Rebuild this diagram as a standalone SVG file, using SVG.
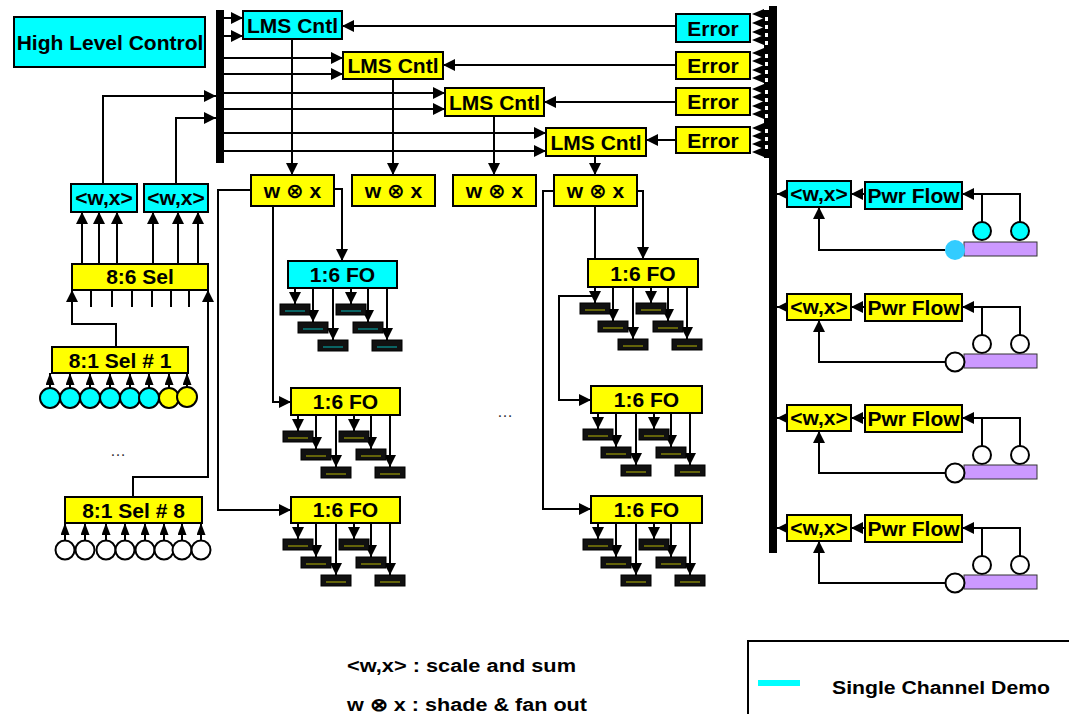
<svg xmlns="http://www.w3.org/2000/svg" width="1069" height="714" viewBox="0 0 1069 714">
<style>
.cy{fill:#00ffff;stroke:#000;stroke-width:2}
.ye{fill:#ffff00;stroke:#000;stroke-width:2}
.t{font-family:"Liberation Sans","DejaVu Sans",Arial,sans-serif;font-weight:bold;font-size:21px;text-anchor:middle;fill:#000}
.ln{fill:none;stroke:#000;stroke-width:2}
.a{marker-end:url(#ah)}
.s{marker-end:url(#as)}
.blk{fill:#111;stroke:#000;stroke-width:1}
.bc{stroke:#00e0e0;stroke-width:0.8}
.by{stroke:#e0e000;stroke-width:0.8}
.leg{font-family:"Liberation Sans",Arial,sans-serif;font-weight:bold;font-size:18px;fill:#000}
</style>
<defs>
<marker id="ah" viewBox="0 0 12 12" refX="12" refY="6" markerWidth="12" markerHeight="12" markerUnits="userSpaceOnUse" orient="auto"><path d="M0,0L12,6L0,12z" fill="#000"/></marker>
<marker id="as" viewBox="0 0 12 9" refX="12" refY="4.5" markerWidth="12" markerHeight="9" markerUnits="userSpaceOnUse" orient="auto"><path d="M0,0L12,4.5L0,9z" fill="#000"/></marker>
</defs>

<g id="left-bus"><rect x="216" y="10" width="8" height="153" fill="#000"/></g>
<g id="right-bus">
<rect x="769" y="6" width="8" height="547" fill="#000"/>
<rect x="764" y="10" width="5" height="148" fill="#000"/>
<g fill="#fff">
<rect x="765" y="17" width="3" height="4"/><rect x="765" y="25" width="3" height="4"/><rect x="765" y="33" width="3" height="4"/><rect x="765" y="41" width="3" height="4"/>
<rect x="765" y="54" width="3" height="4"/><rect x="765" y="62" width="3" height="4"/><rect x="765" y="70" width="3" height="4"/><rect x="765" y="78" width="3" height="4"/>
<rect x="765" y="90" width="3" height="4"/><rect x="765" y="98" width="3" height="4"/><rect x="765" y="106" width="3" height="4"/><rect x="765" y="114" width="3" height="4"/>
<rect x="765" y="129" width="3" height="4"/><rect x="765" y="137" width="3" height="4"/><rect x="765" y="145" width="3" height="4"/>
</g>
<g fill="#000">
<path d="M752,14L764,9V19z"/><path d="M752,23L764,18V28z"/><path d="M752,32L764,27V37z"/><path d="M752,40L764,35V45z"/>
<path d="M752,53L764,48V58z"/><path d="M752,61L764,56V66z"/><path d="M752,70L764,65V75z"/><path d="M752,78L764,73V83z"/>
<path d="M752,89L764,84V94z"/><path d="M752,97L764,92V102z"/><path d="M752,106L764,101V111z"/><path d="M752,114L764,109V119z"/>
<path d="M752,128L764,123V133z"/><path d="M752,136L764,131V141z"/><path d="M752,144L764,139V149z"/><path d="M752,152L764,147V157z"/>
</g>
</g>

<g id="connectors" class="ln">
<path class="a" d="M224,18H243"/><path class="a" d="M224,36H243"/>
<path class="a" d="M224,58H343"/><path class="a" d="M224,74H343"/>
<path class="a" d="M224,93H445"/><path class="a" d="M224,109H445"/>
<path class="a" d="M224,133H546"/><path class="a" d="M224,151H546"/>
<path class="a" d="M103,184V96H216"/><path class="a" d="M176,184V118H216"/>
<path class="a" d="M676,26H342"/><path class="a" d="M676,65H443"/><path class="a" d="M676,102H544"/><path class="a" d="M676,140H646"/>
<path class="a" d="M292,39V175"/><path class="a" d="M393,79V175"/><path class="a" d="M494,116V175"/><path class="a" d="M595,156V175"/>
<path class="a" d="M251,190H218V510H291"/>
<path class="a" d="M273,206V402H291"/>
<path class="a" d="M334,189H342V261"/>
<path class="a" d="M554,191H543V509H591"/>
<path class="a" d="M595,296H559V400H591"/>
<path class="a" d="M637,191H643V259"/>
<path class="a" d="M595,206V303"/>
<path class="a" d="M82,264V212"/><path class="a" d="M99,264V212"/><path class="a" d="M117,264V212"/>
<path class="a" d="M153,264V212"/><path class="a" d="M178,264V212"/><path class="a" d="M198,264V212"/>
<path d="M91,290V307M112,290V307M132,290V307M152,290V307M171,290V307M189,290V307"/>
<path class="a" d="M116,347V324H72V290"/>
<path class="a" d="M133,497V477H208V290"/>
<path class="s" d="M50,388V373"/><path class="s" d="M70,388V373"/><path class="s" d="M90,388V373"/><path class="s" d="M110,388V373"/>
<path class="s" d="M130,388V373"/><path class="s" d="M149,388V373"/><path class="s" d="M169,388V373"/><path class="s" d="M187,388V373"/>
<path class="s" d="M65,540V523"/><path class="s" d="M85,540V523"/><path class="s" d="M106,540V523"/><path class="s" d="M125,540V523"/>
<path class="s" d="M145,540V523"/><path class="s" d="M164,540V523"/><path class="s" d="M182,540V523"/><path class="s" d="M201,540V523"/>
<path class="a" d="M295,288V304"/><path class="a" d="M313,288V322"/><path class="a" d="M333,288V340"/><path class="a" d="M351,288V304"/><path class="a" d="M368,288V322"/><path class="a" d="M387,288V340"/>
<path class="a" d="M298,415V431"/><path class="a" d="M316,415V449"/><path class="a" d="M336,415V467"/><path class="a" d="M354,415V431"/><path class="a" d="M371,415V449"/><path class="a" d="M390,415V467"/>
<path class="a" d="M298,523V539"/><path class="a" d="M316,523V557"/><path class="a" d="M336,523V575"/><path class="a" d="M354,523V539"/><path class="a" d="M371,523V557"/><path class="a" d="M390,523V575"/>
<path class="a" d="M613,287V321"/><path class="a" d="M633,287V339"/><path class="a" d="M651,287V303"/><path class="a" d="M668,287V321"/><path class="a" d="M687,287V339"/>
<path class="a" d="M598,413V429"/><path class="a" d="M616,413V447"/><path class="a" d="M636,413V465"/><path class="a" d="M654,413V429"/><path class="a" d="M671,413V447"/><path class="a" d="M690,413V465"/>
<path class="a" d="M598,523V539"/><path class="a" d="M616,523V557"/><path class="a" d="M636,523V575"/><path class="a" d="M654,523V539"/><path class="a" d="M671,523V557"/><path class="a" d="M690,523V575"/>
<path class="a" d="M787,194H777"/><path class="a" d="M865,194H851"/><path class="a" d="M1020,222V194H962"/><path d="M982,194V222"/><path class="a" d="M945,250H819V207"/>
<path class="a" d="M787,307H777"/><path class="a" d="M865,307H851"/><path class="a" d="M1020,335V307H962"/><path d="M982,307V335"/><path class="a" d="M945,362H819V320"/>
<path class="a" d="M787,418H777"/><path class="a" d="M865,418H851"/><path class="a" d="M1020,446V418H962"/><path d="M982,418V446"/><path class="a" d="M945,473H819V431"/>
<path class="a" d="M787,528H777"/><path class="a" d="M865,528H851"/><path class="a" d="M1020,556V528H962"/><path d="M982,528V556"/><path class="a" d="M945,583H819V541"/>
</g>

<g id="hlc"><rect class="cy" x="14" y="17" width="191" height="50"/><text class="t" x="110" y="50">High Level Control</text></g>

<g id="lms1"><rect class="cy" x="243" y="11" width="99" height="28"/><text class="t" x="292.5" y="33">LMS Cntl</text></g>
<g id="lms2"><rect class="ye" x="343" y="52" width="100" height="27"/><text class="t" x="393" y="73">LMS Cntl</text></g>
<g id="lms3"><rect class="ye" x="445" y="88" width="99" height="28"/><text class="t" x="494.5" y="110">LMS Cntl</text></g>
<g id="lms4"><rect class="ye" x="546" y="128" width="100" height="28"/><text class="t" x="596" y="150">LMS Cntl</text></g>

<g id="err1"><rect class="cy" x="676" y="14" width="74" height="28"/><text class="t" x="713" y="36">Error</text></g>
<g id="err2"><rect class="ye" x="676" y="52" width="74" height="27"/><text class="t" x="713" y="73">Error</text></g>
<g id="err3"><rect class="ye" x="676" y="88" width="74" height="27"/><text class="t" x="713" y="109">Error</text></g>
<g id="err4"><rect class="ye" x="676" y="127" width="74" height="26"/><text class="t" x="713" y="148">Error</text></g>

<g id="wx1"><rect class="ye" x="251" y="175" width="83" height="31"/><text class="t" x="292.5" y="198">w ⊗ x</text></g>
<g id="wx2"><rect class="ye" x="352" y="175" width="83" height="31"/><text class="t" x="393.5" y="198">w ⊗ x</text></g>
<g id="wx3"><rect class="ye" x="453" y="175" width="83" height="31"/><text class="t" x="494.5" y="198">w ⊗ x</text></g>
<g id="wx4"><rect class="ye" x="554" y="175" width="83" height="31"/><text class="t" x="595.5" y="198">w ⊗ x</text></g>

<g id="fo1"><rect class="cy" x="288" y="261" width="109" height="27"/><text class="t" x="342.5" y="282">1:6 FO</text>
<rect class="blk" x="280" y="304" width="30" height="11"/><rect class="blk" x="298" y="322" width="30" height="11"/><rect class="blk" x="318" y="340" width="30" height="11"/><rect class="blk" x="336" y="304" width="30" height="11"/><rect class="blk" x="353" y="322" width="30" height="11"/><rect class="blk" x="372" y="340" width="30" height="11"/>
<path class="bc" d="M285,311h20M303,329h20M323,347h20M341,311h20M358,329h20M377,347h20"/></g>
<g id="fo2"><rect class="ye" x="291" y="388" width="109" height="27"/><text class="t" x="345.5" y="409">1:6 FO</text>
<rect class="blk" x="283" y="431" width="30" height="11"/><rect class="blk" x="301" y="449" width="30" height="11"/><rect class="blk" x="321" y="467" width="30" height="11"/><rect class="blk" x="339" y="431" width="30" height="11"/><rect class="blk" x="356" y="449" width="30" height="11"/><rect class="blk" x="375" y="467" width="30" height="11"/>
<path class="by" d="M288,438h20M306,456h20M326,474h20M344,438h20M361,456h20M380,474h20"/></g>
<g id="fo3"><rect class="ye" x="291" y="497" width="109" height="26"/><text class="t" x="345.5" y="517">1:6 FO</text>
<rect class="blk" x="283" y="539" width="30" height="11"/><rect class="blk" x="301" y="557" width="30" height="11"/><rect class="blk" x="321" y="575" width="30" height="11"/><rect class="blk" x="339" y="539" width="30" height="11"/><rect class="blk" x="356" y="557" width="30" height="11"/><rect class="blk" x="375" y="575" width="30" height="11"/>
<path class="by" d="M288,546h20M306,564h20M326,582h20M344,546h20M361,564h20M380,582h20"/></g>
<g id="fo4"><rect class="ye" x="588" y="259" width="110" height="28"/><text class="t" x="643" y="281">1:6 FO</text>
<rect class="blk" x="580" y="303" width="30" height="11"/><rect class="blk" x="598" y="321" width="30" height="11"/><rect class="blk" x="618" y="339" width="30" height="11"/><rect class="blk" x="636" y="303" width="30" height="11"/><rect class="blk" x="653" y="321" width="30" height="11"/><rect class="blk" x="672" y="339" width="30" height="11"/>
<path class="by" d="M585,310h20M603,328h20M623,346h20M641,310h20M658,328h20M677,346h20"/></g>
<g id="fo5"><rect class="ye" x="591" y="386" width="111" height="27"/><text class="t" x="646.5" y="407">1:6 FO</text>
<rect class="blk" x="583" y="429" width="30" height="11"/><rect class="blk" x="601" y="447" width="30" height="11"/><rect class="blk" x="621" y="465" width="30" height="11"/><rect class="blk" x="639" y="429" width="30" height="11"/><rect class="blk" x="656" y="447" width="30" height="11"/><rect class="blk" x="675" y="465" width="30" height="11"/>
<path class="by" d="M588,436h20M606,454h20M626,472h20M644,436h20M661,454h20M680,472h20"/></g>
<g id="fo6"><rect class="ye" x="591" y="496" width="111" height="27"/><text class="t" x="646.5" y="517">1:6 FO</text>
<rect class="blk" x="583" y="539" width="30" height="11"/><rect class="blk" x="601" y="557" width="30" height="11"/><rect class="blk" x="621" y="575" width="30" height="11"/><rect class="blk" x="639" y="539" width="30" height="11"/><rect class="blk" x="656" y="557" width="30" height="11"/><rect class="blk" x="675" y="575" width="30" height="11"/>
<path class="by" d="M588,546h20M606,564h20M626,582h20M644,546h20M661,564h20M680,582h20"/></g>

<g id="sum-l1"><rect class="cy" x="71" y="184" width="66" height="28"/><text class="t" x="104" y="205">&lt;w,x&gt;</text></g>
<g id="sum-l2"><rect class="cy" x="144" y="184" width="64" height="28"/><text class="t" x="176" y="205">&lt;w,x&gt;</text></g>
<g id="sel86"><rect class="ye" x="72" y="264" width="136" height="26"/><text class="t" x="140" y="284">8:6 Sel</text></g>
<g id="sel1"><rect class="ye" x="52" y="347" width="136" height="26"/><text class="t" x="120" y="368">8:1 Sel # 1</text>
<g stroke="#000" stroke-width="2"><circle cx="50" cy="398" r="10" fill="#00ffff"/><circle cx="70" cy="398" r="10" fill="#00ffff"/><circle cx="90" cy="398" r="10" fill="#00ffff"/><circle cx="110" cy="398" r="10" fill="#00ffff"/><circle cx="130" cy="398" r="10" fill="#00ffff"/><circle cx="149" cy="398" r="10" fill="#00ffff"/><circle cx="169" cy="398" r="10" fill="#ffff00"/><circle cx="187" cy="397" r="10" fill="#ffff00"/></g></g>
<g id="sel8"><rect class="ye" x="65" y="497" width="137" height="26"/><text class="t" x="133.5" y="518">8:1 Sel # 8</text>
<g stroke="#000" stroke-width="2" fill="#fff"><circle cx="65" cy="550" r="9.5"/><circle cx="85" cy="550" r="9.5"/><circle cx="106" cy="550" r="9.5"/><circle cx="125" cy="550" r="9.5"/><circle cx="145" cy="550" r="9.5"/><circle cx="164" cy="550" r="9.5"/><circle cx="182" cy="550" r="9.5"/><circle cx="201" cy="550" r="9.5"/></g></g>

<text x="118" y="456" style="font-family:'Liberation Sans',Arial,sans-serif;font-size:16px;text-anchor:middle;fill:#333">…</text>
<text x="505" y="417" style="font-family:'Liberation Sans',Arial,sans-serif;font-size:16px;text-anchor:middle;fill:#333">…</text>

<g id="row1"><rect class="cy" x="787" y="181" width="64" height="26"/><text class="t" x="819" y="201">&lt;w,x&gt;</text>
<rect class="cy" x="865" y="182" width="97" height="27"/><text class="t" x="913.5" y="203">Pwr Flow</text>
<circle cx="982" cy="231" r="9" fill="#00ffff" stroke="#000" stroke-width="2"/><circle cx="1020" cy="231" r="9" fill="#00ffff" stroke="#000" stroke-width="2"/>
<rect x="964" y="242" width="73" height="14" fill="#cc99ff" stroke="#333" stroke-width="1"/><circle cx="955" cy="250" r="10" fill="#33ccff"/></g>
<g id="row2"><rect class="ye" x="787" y="294" width="64" height="26"/><text class="t" x="819" y="314">&lt;w,x&gt;</text>
<rect class="ye" x="865" y="294" width="97" height="27"/><text class="t" x="913.5" y="315">Pwr Flow</text>
<circle cx="982" cy="344" r="9" fill="#fff" stroke="#000" stroke-width="2"/><circle cx="1020" cy="344" r="9" fill="#fff" stroke="#000" stroke-width="2"/>
<rect x="964" y="354" width="73" height="14" fill="#cc99ff" stroke="#333" stroke-width="1"/><circle cx="955" cy="362" r="9.5" fill="#fff" stroke="#000" stroke-width="2"/></g>
<g id="row3"><rect class="ye" x="787" y="405" width="64" height="26"/><text class="t" x="819" y="425">&lt;w,x&gt;</text>
<rect class="ye" x="865" y="405" width="97" height="27"/><text class="t" x="913.5" y="426">Pwr Flow</text>
<circle cx="982" cy="455" r="9" fill="#fff" stroke="#000" stroke-width="2"/><circle cx="1020" cy="455" r="9" fill="#fff" stroke="#000" stroke-width="2"/>
<rect x="964" y="465" width="73" height="14" fill="#cc99ff" stroke="#333" stroke-width="1"/><circle cx="955" cy="473" r="9.5" fill="#fff" stroke="#000" stroke-width="2"/></g>
<g id="row4"><rect class="ye" x="787" y="515" width="64" height="26"/><text class="t" x="819" y="535">&lt;w,x&gt;</text>
<rect class="ye" x="865" y="515" width="97" height="27"/><text class="t" x="913.5" y="536">Pwr Flow</text>
<circle cx="982" cy="565" r="9" fill="#fff" stroke="#000" stroke-width="2"/><circle cx="1020" cy="565" r="9" fill="#fff" stroke="#000" stroke-width="2"/>
<rect x="964" y="575" width="73" height="14" fill="#cc99ff" stroke="#333" stroke-width="1"/><circle cx="955" cy="583" r="9.5" fill="#fff" stroke="#000" stroke-width="2"/></g>

<g id="legend">
<text class="leg" x="347" y="672" textLength="229" lengthAdjust="spacingAndGlyphs">&lt;w,x&gt; : scale and sum</text>
<text class="leg" x="347" y="711" textLength="240" lengthAdjust="spacingAndGlyphs">w ⊗ x : shade &amp; fan out</text>
<rect x="748" y="641" width="330" height="90" fill="#fff" stroke="#000" stroke-width="2"/>
<rect x="758" y="680" width="42" height="6" fill="#00ffff"/>
<text class="leg" x="832" y="694" textLength="218" lengthAdjust="spacingAndGlyphs">Single Channel Demo</text>
</g>
</svg>
